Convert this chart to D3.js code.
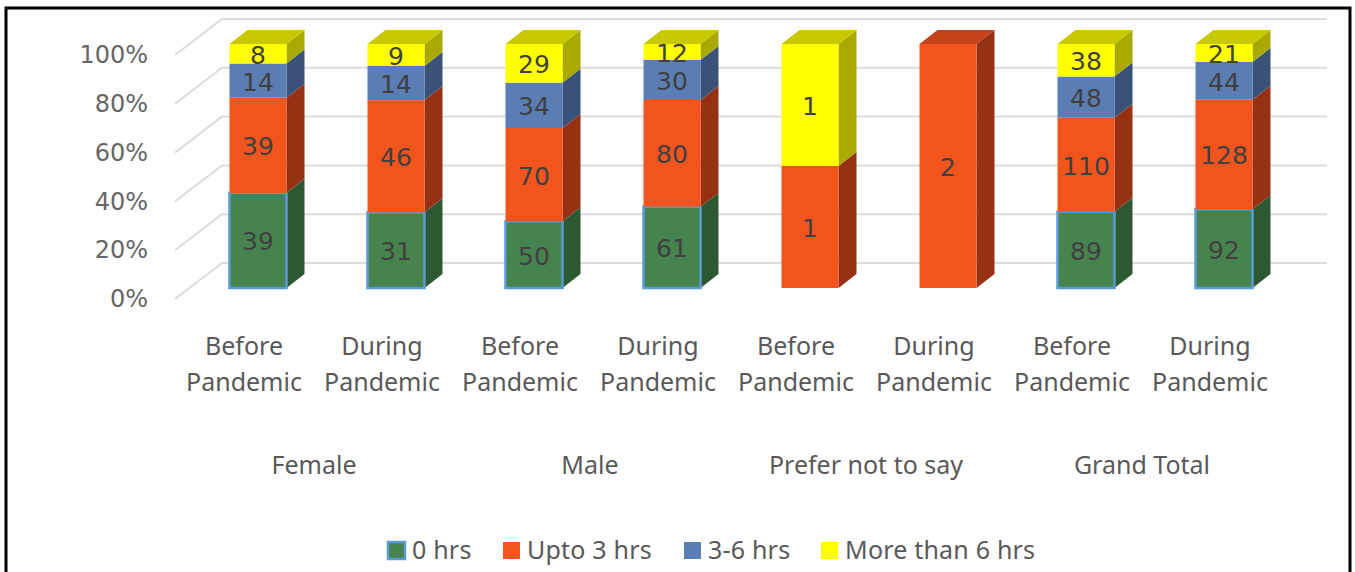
<!DOCTYPE html>
<html>
<head>
<meta charset="utf-8">
<script src="https://cdnjs.cloudflare.com/ajax/libs/d3/7.8.5/d3.min.js"></script>
<style>
html,body{margin:0;padding:0;background:#fff;overflow:hidden}
svg{display:block}
text{font-family:"Noto Sans",sans-serif;fill:#595959}
</style>
</head>
<body>
<svg id="chart" width="1355" height="572"></svg>
<script>
// Sleep hours by gender, before and during the pandemic
const groups = ["Female", "Male", "Prefer not to say", "Grand Total"];
const periods = ["Before\nPandemic", "During\nPandemic"];
const seriesNames = ["0 hrs", "Upto 3 hrs", "3-6 hrs", "More than 6 hrs"];
const zeroHrs   = [39, 31, 50, 61, 0, 0, 89, 92];
const upto3Hrs  = [39, 46, 70, 80, 1, 2, 110, 128];
const h3to6     = [14, 14, 34, 30, 0, 0, 48, 44];
const over6Hrs  = [8, 9, 29, 12, 1, 0, 38, 21];
const yTicks = [0, 0.2, 0.4, 0.6, 0.8, 1];

const frontColors = ["#47834f", "#f2541e", "#5a7db5", "#ffff00"];
const sideColors  = ["#2d5932", "#963213", "#3a5179", "#a9a900"];
const topColors   = ["#3a6d41", "#c5421a", "#4a6898", "#c8c800"];

const svg = d3.select("#chart");
const columns = [zeroHrs, upto3Hrs, h3to6, over6Hrs];
const rows = zeroHrs.map((_, i) => {
  const row = {index: i};
  columns.forEach((c, k) => row[k] = c[i]);
  return row;
});
const stacked = d3.stack().keys([0, 1, 2, 3]).offset(d3.stackOffsetExpand)(rows);

const x = d3.scaleBand().domain(d3.range(8)).range([189, 1293]).paddingInner(0.587).paddingOuter(0.2935);
const y = d3.scaleLinear().domain([0, 1]).range([288, 44]);

// Oblique offsets that give the columns and the back wall their depth
const barDepthX = 18, barDepthY = 14;
const wallLeft = 175, wallBack = 222, wallRight = 1327, wallNear = 11, wallFar = -25;
const digitFont = '"DejaVu Sans",sans-serif';

// Outer frame, open at the bottom edge
svg.append("path")
  .attr("d", "M6,572V8H1350V572")
  .attr("fill", "#fefefe").attr("stroke", "#000").attr("stroke-width", 3);

// Gridlines across the floor-to-wall corner
svg.append("g").selectAll("path").data(yTicks).join("path")
  .attr("d", d => `M${wallLeft},${y(d) + wallNear}L${wallBack},${y(d) + wallFar}H${wallRight}`)
  .attr("fill", "none").attr("stroke", "#dcdcdc").attr("stroke-width", 2);

// Percentage axis labels, no domain line or ticks
const axis = d3.axisLeft(d3.scaleLinear().domain([0, 1]).range([y(0) + wallNear, y(1) + wallNear]))
  .tickValues(yTicks).tickFormat(d3.format(".0%")).tickSize(0).tickPadding(0);
const axisG = svg.append("g").attr("transform", "translate(148,0)").call(axis);
axisG.select(".domain").remove();
axisG.selectAll("text").attr("font-size", 24).style("font-family", digitFont).style("fill", "#666666");

// Stacked columns, bottom series first so upper faces sit on top
const barG = svg.append("g");
rows.forEach((row, i) => {
  const bx = x(i), bw = x.bandwidth();
  stacked.forEach((layer, k) => {
    const [v0, v1] = layer[i];
    if (v1 - v0 === 0) return;
    const yT = y(v1), yB = y(v0);
    const g = barG.append("g");
    const outline = k === 0 ? {stroke: "#5b9bd5", w: 2.5} : {stroke: "none", w: 0};
    g.append("path")
      .attr("d", `M${bx + bw},${yB}l${barDepthX},${-barDepthY}V${yT - barDepthY}L${bx + bw},${yT}Z`)
      .attr("fill", sideColors[k]);
    const isTop = !stacked.slice(k + 1).some(l => l[i][1] - l[i][0] > 0);
    if (isTop) {
      g.append("path")
        .attr("d", `M${bx},${yT}l${barDepthX},${-barDepthY}h${bw}l${-barDepthX},${barDepthY}Z`)
        .attr("fill", topColors[k]);
    }
    g.append("rect")
      .attr("x", bx).attr("y", yT).attr("width", bw).attr("height", yB - yT)
      .attr("fill", frontColors[k])
      .attr("stroke", outline.stroke).attr("stroke-width", outline.w);
  });
});

// Value labels centred on each segment
const labelG = svg.append("g");
rows.forEach((row, i) => {
  stacked.forEach((layer, k) => {
    const [v0, v1] = layer[i];
    if (columns[k][i] === 0) return;
    labelG.append("text")
      .attr("x", x(i) + x.bandwidth() / 2)
      .attr("y", (y(v0) + y(v1)) / 2 + 3)
      .attr("text-anchor", "middle").attr("dominant-baseline", "middle")
      .attr("font-size", 25).style("fill", "#404040").style("font-family", digitFont)
      .text(columns[k][i]);
  });
});

// Two-level category axis
const catG = svg.append("g");
rows.forEach((row, i) => {
  const label = periods[i % 2].split("\n");
  const cx = x(i) + x.bandwidth() / 2 - 14;
  label.forEach((line, j) => {
    catG.append("text")
      .attr("x", cx).attr("y", 355 + j * 36)
      .attr("text-anchor", "middle").attr("font-size", 25)
      .text(line);
  });
});
groups.forEach((g, j) => {
  const cx = (x(j * 2) + x(j * 2 + 1) + x.bandwidth()) / 2 - 13;
  catG.append("text")
    .attr("x", cx).attr("y", 474)
    .attr("text-anchor", "middle").attr("font-size", 25)
    .text(g);
});

// Legend
const legendX = [388, 503, 684, 821];
const legend = svg.append("g").selectAll("g").data(seriesNames).join("g")
  .attr("transform", (d, i) => `translate(${legendX[i]},542)`);
legend.append("rect")
  .attr("width", 17).attr("height", 17)
  .attr("fill", (d, i) => frontColors[i])
  .attr("stroke", (d, i) => i === 0 ? "#5b9bd5" : "none")
  .attr("stroke-width", 2.5);
legend.append("text")
  .attr("x", 24).attr("y", 17)
  .attr("font-size", 25).attr("letter-spacing", 0.2)
  .text(d => d);
</script>
</body>
</html>
